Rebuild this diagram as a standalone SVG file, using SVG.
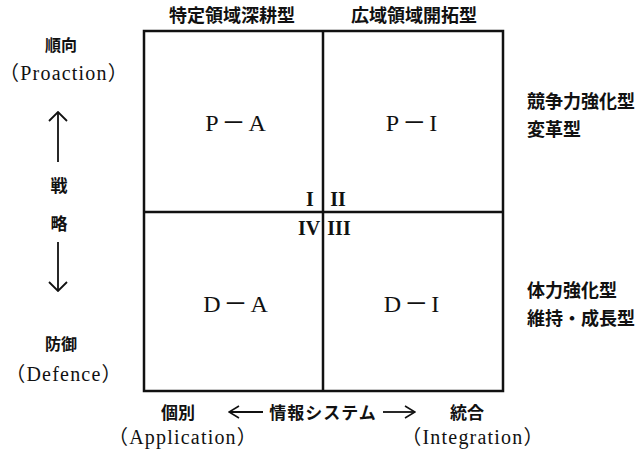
<svg xmlns="http://www.w3.org/2000/svg" width="641" height="452" viewBox="0 0 641 452">
<defs>
<style>
.jp{font-family:"Noto Sans CJK JP","Noto Sans",sans-serif;font-weight:bold;fill:#111}
.h{font-size:18px}
.s{font-size:16px}
.b{font-size:17px}
.sf{font-family:"Liberation Serif","Noto Sans CJK JP",serif;font-size:20px;letter-spacing:1.2px;fill:#111}
.big{font-family:"Liberation Serif","Noto Sans CJK JP",serif;font-size:24px;letter-spacing:3px;fill:#111}
.rn{font-family:"Liberation Serif",serif;font-weight:bold;font-size:20px;fill:#111}
.ln{stroke:#111;stroke-width:2.5;fill:none}
.ar{stroke:#111;stroke-width:1.8;fill:none}
</style>
<marker id="oh" viewBox="0 0 12 20" refX="11" refY="10" markerWidth="12" markerHeight="20" markerUnits="userSpaceOnUse" orient="auto">
<path d="M2,1 L11,10 L2,19" fill="none" stroke="#111" stroke-width="1.8"/>
</marker>
<marker id="oh2" viewBox="0 0 12 14" refX="11" refY="7" markerWidth="12" markerHeight="14" markerUnits="userSpaceOnUse" orient="auto">
<path d="M1,1 L11,7 L1,13" fill="none" stroke="#111" stroke-width="1.6"/>
</marker>
</defs>
<rect width="641" height="452" fill="#fff"/>
<g id="matrix">
<rect class="ln" x="144" y="31" width="359" height="360"/>
<line class="ln" x1="323" y1="31" x2="323" y2="391"/>
<line class="ln" x1="144" y1="212" x2="503" y2="212"/>
</g>
<g id="quadrant-PA"><text class="big" x="237" y="131" text-anchor="middle">P－A</text><text class="rn" x="310" y="206" text-anchor="middle">I</text></g>
<g id="quadrant-PI"><text class="big" x="413" y="131" text-anchor="middle">P－I</text><text class="rn" x="338" y="206" text-anchor="middle">II</text></g>
<g id="quadrant-DA"><text class="big" x="237" y="312" text-anchor="middle">D－A</text><text class="rn" x="309" y="235" text-anchor="middle">IV</text></g>
<g id="quadrant-DI"><text class="big" x="413" y="312" text-anchor="middle">D－I</text><text class="rn" x="339" y="235" text-anchor="middle">III</text></g>
<g id="top-labels">
<text class="jp h" x="232" y="22" text-anchor="middle">特定領域深耕型</text>
<text class="jp h" x="414" y="22" text-anchor="middle">広域領域開拓型</text>
</g>
<g id="left-labels">
<text class="jp s" x="61" y="51" text-anchor="middle">順向</text>
<text class="sf" x="64" y="80" text-anchor="middle">（Proaction）</text>
<text class="jp b" x="59" y="192" text-anchor="middle">戦</text>
<text class="jp b" x="59" y="230" text-anchor="middle">略</text>
<text class="jp s" x="61" y="350" text-anchor="middle">防御</text>
<text class="sf" x="64" y="381" text-anchor="middle">（Defence）</text>
</g>
<g id="right-labels">
<text class="jp h" x="527" y="108">競争力強化型</text>
<text class="jp h" x="527" y="136">変革型</text>
<text class="jp h" x="527" y="297">体力強化型</text>
<text class="jp h" x="527" y="325">維持・成長型</text>
</g>
<g id="bottom-labels">
<text class="jp b" x="178" y="419" text-anchor="middle">個別</text>
<text class="jp b" x="323" y="419" text-anchor="middle" letter-spacing="1">情報システム</text>
<text class="jp b" x="467" y="419" text-anchor="middle">統合</text>
<text class="sf" x="183" y="444" text-anchor="middle">（Application）</text>
<text class="sf" x="473" y="444" text-anchor="middle">（Integration）</text>
</g>
<g id="connectors">
<line class="ar" x1="58" y1="162" x2="58" y2="112" marker-end="url(#oh)"/>
<line class="ar" x1="58" y1="242" x2="58" y2="291" marker-end="url(#oh)"/>
<line class="ar" x1="263" y1="412" x2="229" y2="412" marker-end="url(#oh2)"/>
<line class="ar" x1="383" y1="412" x2="415" y2="412" marker-end="url(#oh2)"/>
</g>
</svg>
